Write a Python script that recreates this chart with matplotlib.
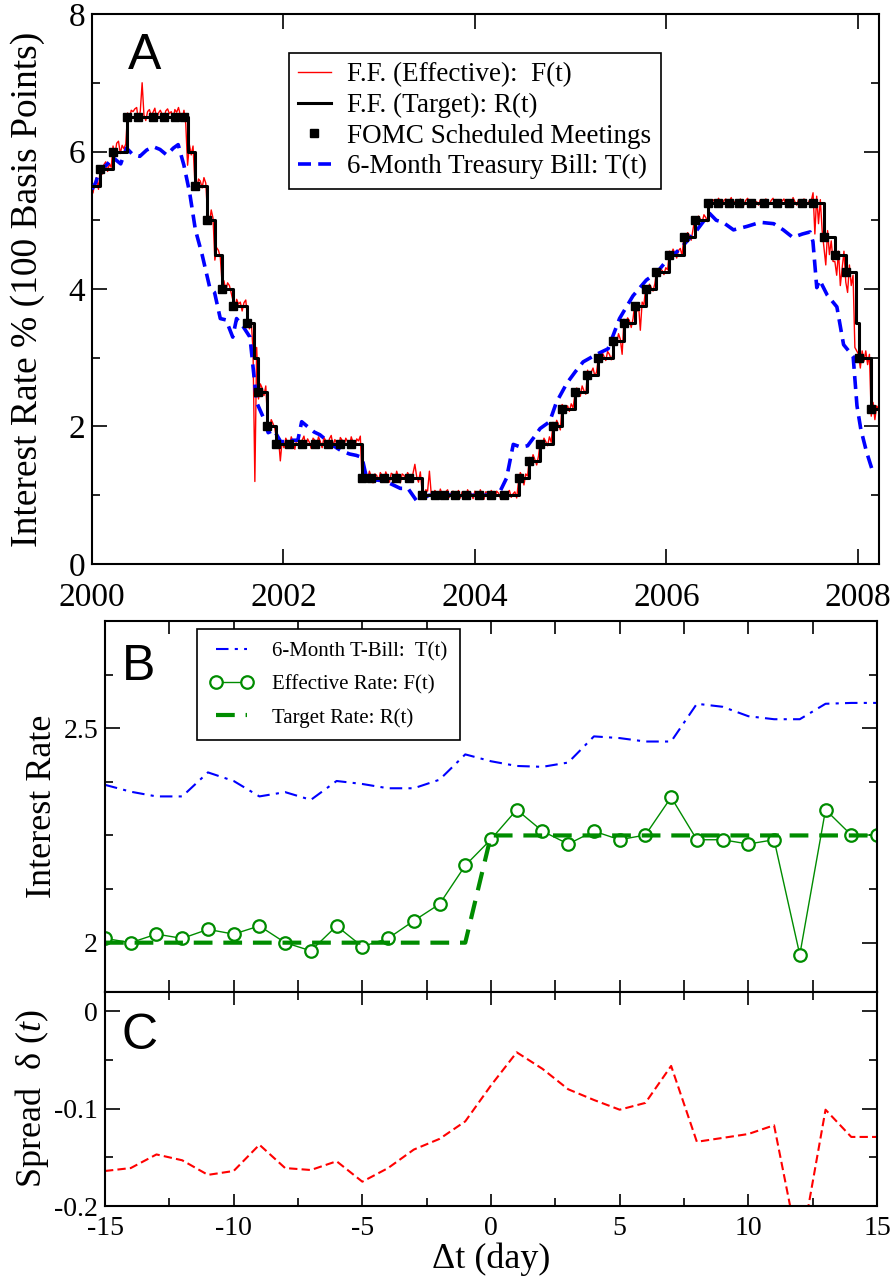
import matplotlib
matplotlib.use("Agg")
import matplotlib.pyplot as plt
import numpy as np
import pandas as pd
from matplotlib.ticker import MultipleLocator, FixedLocator

plt.rcParams['font.family'] = ['Liberation Serif', 'DejaVu Serif']
plt.rcParams['axes.unicode_minus'] = False
plt.rcParams['mathtext.fontset'] = 'custom'
plt.rcParams['mathtext.rm'] = 'Liberation Serif'
plt.rcParams['mathtext.it'] = 'Liberation Serif:italic'

# ---------------- panel A data ----------------
# fed funds target changes (date, new level)
target_dates = ["2000-01-01", "2000-02-02", "2000-03-21", "2000-05-16",
                "2001-01-03", "2001-01-31", "2001-03-20", "2001-04-18", "2001-05-15",
                "2001-06-27", "2001-08-21", "2001-09-17", "2001-10-02", "2001-11-06",
                "2001-12-11", "2002-11-06", "2003-06-25",
                "2004-06-30", "2004-08-10", "2004-09-21", "2004-11-10", "2004-12-14",
                "2005-02-02", "2005-03-22", "2005-05-03", "2005-06-30", "2005-08-09",
                "2005-09-20", "2005-11-01", "2005-12-13",
                "2006-01-31", "2006-03-28", "2006-05-10", "2006-06-29",
                "2007-09-18", "2007-10-31", "2007-12-11",
                "2008-01-22", "2008-01-30", "2008-03-18"]
target_levels = [5.50, 5.75, 6.00, 6.50,
                 6.00, 5.50, 5.00, 4.50, 4.00, 3.75, 3.50, 3.00, 2.50, 2.00, 1.75,
                 1.25, 1.00,
                 1.25, 1.50, 1.75, 2.00, 2.25,
                 2.50, 2.75, 3.00, 3.25, 3.50, 3.75, 4.00, 4.25,
                 4.50, 4.75, 5.00, 5.25,
                 4.75, 4.50, 4.25,
                 3.50, 3.00, 2.25]
end_date = "2008-04-16"

# scheduled FOMC meetings
fomc_dates = ["2000-02-02", "2000-03-21", "2000-05-16", "2000-06-28", "2000-08-22", "2000-10-03", "2000-11-15", "2000-12-19",
              "2001-01-31", "2001-03-20", "2001-05-15", "2001-06-27", "2001-08-21", "2001-10-02", "2001-11-06", "2001-12-11",
              "2002-01-30", "2002-03-19", "2002-05-07", "2002-06-26", "2002-08-13", "2002-09-24", "2002-11-06", "2002-12-10",
              "2003-01-29", "2003-03-18", "2003-05-06", "2003-06-25", "2003-08-12", "2003-09-16", "2003-10-28", "2003-12-09",
              "2004-01-28", "2004-03-16", "2004-05-04", "2004-06-30", "2004-08-10", "2004-09-21", "2004-11-10", "2004-12-14",
              "2005-02-02", "2005-03-22", "2005-05-03", "2005-06-30", "2005-08-09", "2005-09-20", "2005-11-01", "2005-12-13",
              "2006-01-31", "2006-03-28", "2006-05-10", "2006-06-29", "2006-08-08", "2006-09-20", "2006-10-25", "2006-12-12",
              "2007-01-31", "2007-03-21", "2007-05-09", "2007-06-28", "2007-08-07", "2007-09-18", "2007-10-31", "2007-12-11",
              "2008-01-30", "2008-03-18"]

# effective rate: weekly deviation from target (basis points), from 2000-01-05
eff_start = "2000-01-05"
eff_dev_2000 = [-10, 5, 12, -5, 3, -8, 6, 10, -4, 7, 2, 8, -6, 12, 15, -3, 9, 4, 11,
                6, -4, 10, 8, 12, 14, -6, 9, 50, 3, -5, 8, 11, 2, 7, 13, -3, 6, 10, 4,
                -2, 9, 12, 5, 8, -4, 11, 7, 14, 3, -6, 10, -10]
eff_dev_2001 = [-20, 10, -5, 8, 5, -6, 10, 7, -3, 12, 4, 8, -5, 15, 3, -8, 10, 6, -4,
                7, 12, -3, 9, 5, -6, 8, -4, 10, 3, 6, -7, 5, 9, 6, -8, 4, -40, -180, 15,
                -10, 12, 6, -5, 9, 8, -6, 10, 4, -3, 5, 8, -25]
eff_dev_2002 = [4, -6, 8, 2, -5, 10, 3, -8, 6, 9, -3, 5, 11, -4, 7, 2, -7, 8, 5, -2,
                10, 3, -6, 9, 4, -5, 7, 12, -3, 6, 1, -8, 9, 5, -4, 8, 3, -6, 10, 2,
                -5, 7, 4, 11, -6, 5, 8, -3, 10, 2, -7, 6]
eff_dev_2003 = [4, -5, 8, 3, -4, 9, 2, -6, 7, 5, -3, 10, 1, -7, 6, 4, -2, 8, 3, -5,
                7, 20, 2, -6, 9, 5, -3, 8, 6, 35, 2, -5, 7, 3, -4, 9, 1, -6, 5, 8,
                -3, 4, 6, -5, 2, 7, -4, 5, 3, -6, 8, 2]
eff_dev_2004 = [3, -5, 6, 2, -4, 8, 1, -6, 5, 4, -3, 7, 2, -5, 6, 3, -4, 5, 1, -6,
                4, 7, -3, 2, 5, -4, -5, 8, 2, -10, 6, 3, 5, -4, 9, 2, -6, 7, 4, -5,
                8, 3, -3, 10, 2, 6, -4, 9, 3, -5, 7, 2, -4]
eff_dev_2005 = [5, -3, 8, 2, -4, 6, 3, -6, 9, 2, -3, 7, -5, 4, 10, -2, 5, 3, -6, 8,
                2, -4, 9, 5, -3, 6, 4, -5, 10, 2, -20, 6, -3, 8, 4, -6, 7, 5, -8, 3,
                -35, 6, 2, 4, -5, 7, 2, -3, 8, 3, -6, 5]
eff_dev_2006 = [2, -4, 6, 3, 5, -3, 8, 2, -5, 6, 9, -2, 4, -6, 7, 3, -4, 12, 3, -5,
                6, 2, -3, 8, 4, -2, 3, -4, 5, 2, -3, 7, 1, -5, 4, 6, -2, 3, 8, -3,
                2, 5, -4, 6, 1, -3, 4, 7, -2, 3, 5, -4]
eff_dev_2007 = [2, -3, 5, 1, -4, 6, 3, -2, 4, 7, -3, 2, 5, -4, 3, 6, -2, 1, 4, -5,
                8, 2, -3, 5, 3, -4, 6, 2, -2, 4, 3, 15, -45, 10, -30, 5, -40, -15, -40, 10,
                -25, -5, -35, -10, -30, 5, -45, -20, 5, -15, -30, 10]
eff_dev_2008 = [-20, -5, -110, -40, 5, -15, 10, -5, 10, -10, 5, -10, 10, -15, 5, 0]

# 6-month T-bill (axis year, %)
tbill_t = [2000.00, 2000.04, 2000.08, 2000.15, 2000.22, 2000.30, 2000.36, 2000.43, 2000.50,
           2000.57, 2000.64, 2000.71, 2000.78, 2000.85, 2000.90, 2000.96, 2001.02, 2001.08,
           2001.15, 2001.23, 2001.28, 2001.34, 2001.40, 2001.47, 2001.51, 2001.58, 2001.65,
           2001.72, 2001.79, 2001.84, 2001.90, 2001.97, 2002.04, 2002.10, 2002.15, 2002.19,
           2002.25, 2002.32, 2002.38, 2002.45, 2002.52, 2002.60, 2002.69, 2002.76, 2002.82,
           2002.86, 2002.92, 2003.00, 2003.10, 2003.22, 2003.30, 2003.39, 2003.45, 2003.52,
           2003.60, 2003.70, 2003.80, 2003.90, 2004.00, 2004.10, 2004.20, 2004.26, 2004.33,
           2004.40, 2004.48, 2004.55, 2004.62, 2004.68, 2004.78, 2004.85, 2004.96, 2005.05,
           2005.13, 2005.27, 2005.39, 2005.51, 2005.65, 2005.79, 2005.90, 2006.00, 2006.14,
           2006.32, 2006.45, 2006.52, 2006.59, 2006.70, 2006.84, 2006.98, 2007.12, 2007.22,
           2007.32, 2007.42, 2007.50, 2007.53, 2007.57, 2007.60, 2007.68, 2007.78, 2007.85,
           2007.95, 2007.99, 2008.03, 2008.09, 2008.16]
tbill_v = [5.45, 5.55, 5.74, 5.80, 5.91, 5.82, 6.05, 5.95, 5.93,
           6.02, 6.07, 6.03, 5.95, 6.05, 6.10, 5.80, 5.40, 4.86,
           4.50, 4.02, 3.95, 3.57, 3.55, 3.30, 3.57, 3.45, 3.30,
           2.35, 2.13, 1.91, 1.95, 1.78, 1.78, 1.80, 1.80, 2.07,
           2.00, 1.92, 1.88, 1.80, 1.72, 1.65, 1.60, 1.58, 1.55,
           1.30, 1.22, 1.22, 1.18, 1.10, 1.10, 0.92, 0.95, 1.00,
           1.00, 1.02, 0.98, 1.00, 1.00, 1.00, 1.02, 1.05, 1.25,
           1.74, 1.70, 1.72, 1.85, 1.97, 2.07, 2.35, 2.63, 2.80,
           2.94, 3.05, 3.13, 3.57, 3.90, 4.13, 4.24, 4.41, 4.58,
           4.86, 5.10, 5.00, 4.97, 4.86, 4.91, 4.97, 4.95, 4.86,
           4.75, 4.80, 4.83, 4.69, 4.02, 4.13, 3.91, 3.74, 3.19,
           3.02, 2.30, 1.96, 1.63, 1.32]

# ---------------- panels B / C data ----------------
dt = list(range(-15, 16))
tbill_b = [2.368, 2.352, 2.341, 2.341, 2.397, 2.377, 2.341, 2.351, 2.333, 2.377, 2.370,
           2.360, 2.360, 2.380, 2.439, 2.423, 2.412, 2.410, 2.420, 2.481, 2.477, 2.469,
           2.469, 2.557, 2.550, 2.528, 2.521, 2.521, 2.557, 2.559, 2.559]
eff_b = [2.010, 2.000, 2.020, 2.010, 2.031, 2.020, 2.039, 2.000, 1.981, 2.039, 1.991,
         2.010, 2.051, 2.090, 2.180, 2.241, 2.310, 2.260, 2.230, 2.260, 2.240, 2.251,
         2.339, 2.240, 2.240, 2.230, 2.240, 1.972, 2.310, 2.251, 2.251]
target_b = [2.0, 2.0, 2.0, 2.0, 2.0, 2.0, 2.0, 2.0, 2.0, 2.0, 2.0, 2.0, 2.0, 2.0, 2.0,
            2.25, 2.25, 2.25, 2.25, 2.25, 2.25, 2.25, 2.25, 2.25, 2.25, 2.25, 2.25, 2.25,
            2.25, 2.25, 2.25]
spread_c = [-0.164, -0.161, -0.147, -0.153, -0.168, -0.164, -0.137, -0.161, -0.163, -0.154,
            -0.175, -0.161, -0.142, -0.131, -0.113, -0.076, -0.042, -0.059, -0.080, -0.091,
            -0.101, -0.094, -0.056, -0.134, -0.130, -0.126, -0.117, -0.250, -0.101, -0.129,
            -0.129]

# the time axis of the original runs a little slower than calendar time
DAYS_PER_AXIS_YEAR = 368.6
origin = pd.Timestamp("2000-01-01")


def to_axis(dates):
    d = pd.to_datetime(pd.Series(dates))
    return 2000 + (d - origin).dt.days.to_numpy() / DAYS_PER_AXIS_YEAR


tgt_days = (pd.to_datetime(pd.Series(target_dates)) - origin).dt.days.to_numpy()
tgt_lv = np.array(target_levels)


def target_at(dates):
    days = (pd.to_datetime(pd.Series(dates)) - origin).dt.days.to_numpy()
    return tgt_lv[np.searchsorted(tgt_days, days, side='right') - 1]


step_x = to_axis(target_dates + [end_date])
step_y = target_levels + [target_levels[-1]]

eff_dev = (eff_dev_2000 + eff_dev_2001 + eff_dev_2002 + eff_dev_2003 + eff_dev_2004
           + eff_dev_2005 + eff_dev_2006 + eff_dev_2007 + eff_dev_2008)
eff_dates = pd.date_range(eff_start, periods=len(eff_dev), freq='7D')
eff_x = to_axis(eff_dates)
eff_y = target_at(eff_dates) + np.array(eff_dev) / 100.0

meet_x = to_axis(fomc_dates)
meet_y = target_at(fomc_dates)

# ---------------- figure ----------------
fig = plt.figure(figsize=(8.96, 12.78), dpi=100)
W, H = 896.0, 1278.0


def box(l, t, r, b):
    return [l / W, 1 - b / H, (r - l) / W, (b - t) / H]


ax_a = fig.add_axes(box(92, 14, 879, 564))
ax_b = fig.add_axes(box(105, 621, 877, 992))
ax_c = fig.add_axes(box(105, 992, 877, 1206))

green = '#008c00'

# panel A
ax_a.plot(eff_x, eff_y, color='red', lw=1.0, zorder=2, label='F.F. (Effective):  F(t)')
ax_a.step(step_x, step_y, where='post', color='black', lw=2.2, zorder=4,
          label='F.F. (Target): R(t)')
ax_a.plot(meet_x, meet_y, ls='none', marker='s', ms=5.5, color='black', zorder=5,
          label='FOMC Scheduled Meetings')
ax_a.plot(tbill_t, tbill_v, color='#0000ff', lw=2.6, dashes=(3.6, 2.0), zorder=3,
          label='6-Month Treasury Bill: T(t)')

ax_a.set_xlim(2000, 2008.22)
ax_a.set_ylim(0, 8)
ax_a.xaxis.set_major_locator(FixedLocator([2000, 2002, 2004, 2006, 2008]))
ax_a.set_xticklabels(['2000', '2002', '2004', '2006', '2008'])
ax_a.yaxis.set_major_locator(MultipleLocator(2))
ax_a.yaxis.set_minor_locator(MultipleLocator(1))
ax_a.tick_params(axis='x', which='major', direction='in', top=True, length=11, width=1.2,
                 labelsize=24, pad=13)
ax_a.tick_params(axis='y', which='major', direction='in', right=True, length=11, width=1.2,
                 labelsize=24, pad=5)
ax_a.tick_params(axis='y', which='minor', direction='in', right=True, length=6, width=1.2)
ax_a.set_ylabel('Interest Rate % (100 Basis Points)', fontsize=27)
ax_a.yaxis.set_label_coords(-0.060, 0.5)
ax_a.text(0.046, 0.90, 'A', transform=ax_a.transAxes, fontsize=36,
          family='Liberation Sans', va='baseline', ha='left')
leg_a = ax_a.legend(loc='upper left', bbox_to_anchor=(0.250, 0.929), borderaxespad=0,
                    fontsize=19.5, frameon=True, fancybox=False, framealpha=1,
                    edgecolor='black', numpoints=1, handlelength=1.2,
                    handletextpad=0.6, labelspacing=0.2, borderpad=0.35)
leg_a.get_frame().set_linewidth(1.2)

# panel B
ax_b.plot(dt, tbill_b, color='#0000ff', lw=1.5, dashes=(6, 3, 1.5, 3),
          label='6-Month T-Bill:  T(t)')
ax_b.plot(dt, eff_b, color=green, lw=1.0, marker='o', ms=9, mfc='white', mec=green,
          mew=1.6, label='Effective Rate: F(t)')
ax_b.plot(dt, target_b, color=green, lw=3.0, dashes=(4.5, 2.6), label='Target Rate: R(t)')
ax_b.set_xlim(-15, 15)
ax_b.set_ylim(1.885, 2.75)
ax_b.xaxis.set_major_locator(MultipleLocator(5))
ax_b.xaxis.set_minor_locator(MultipleLocator(2.5))
ax_b.yaxis.set_major_locator(FixedLocator([2.0, 2.5]))
ax_b.set_yticklabels(['2', '2.5'])
ax_b.yaxis.set_minor_locator(FixedLocator([2.125, 2.25, 2.375, 2.625]))
ax_b.tick_params(axis='x', which='both', direction='in', top=True, labelbottom=False,
                 length=9, width=1.2)
ax_b.tick_params(axis='y', which='major', direction='in', right=True, length=11, width=1.2,
                 labelsize=20, pad=5)
ax_b.tick_params(axis='y', which='minor', direction='in', right=True, length=6, width=1.2)
ax_b.set_ylabel('Interest Rate', fontsize=26)
ax_b.yaxis.set_label_coords(-0.060, 0.5)
ax_b.text(0.022, 0.841, 'B', transform=ax_b.transAxes, fontsize=36,
          family='Liberation Sans', va='baseline', ha='left')
leg_b = ax_b.legend(loc='upper left', bbox_to_anchor=(0.119, 0.978), borderaxespad=0,
                    fontsize=15, frameon=True, fancybox=False, framealpha=1,
                    edgecolor='black', numpoints=2, handlelength=2.1,
                    handletextpad=0.9, labelspacing=0.65, borderpad=0.6)
leg_b.get_frame().set_linewidth(1.2)

# panel C
ax_c.plot(dt, spread_c, color='#ff0000', lw=1.5, dashes=(4, 2))
ax_c.set_xlim(-15, 15)
ax_c.set_ylim(-0.2, 0.02)
ax_c.xaxis.set_major_locator(MultipleLocator(5))
ax_c.xaxis.set_minor_locator(MultipleLocator(2.5))
ax_c.yaxis.set_major_locator(FixedLocator([-0.2, -0.1, 0.0]))
ax_c.set_yticklabels(['-0.2', '-0.1', '0'])
ax_c.yaxis.set_minor_locator(FixedLocator([-0.15, -0.05]))
ax_c.tick_params(axis='x', which='major', direction='in', top=True, length=9, width=1.2,
                 labelsize=20, pad=7)
ax_c.tick_params(axis='x', which='minor', direction='in', top=True, length=6, width=1.2)
ax_c.tick_params(axis='y', which='major', direction='in', right=True, length=11, width=1.2,
                 labelsize=20, pad=5)
ax_c.tick_params(axis='y', which='minor', direction='in', right=True, length=6, width=1.2)
ax_c.set_ylabel(r'Spread  δ $(t)$', fontsize=26)
ax_c.yaxis.set_label_coords(-0.070, 0.5)
ax_c.set_xlabel('Δt (day)', fontsize=26, labelpad=1)
ax_c.text(0.022, 0.734, 'C', transform=ax_c.transAxes, fontsize=36,
          family='Liberation Sans', va='baseline', ha='left')

for ax in (ax_a, ax_b, ax_c):
    for s in ax.spines.values():
        s.set_linewidth(1.5)

fig.savefig('out.png', dpi=100)
